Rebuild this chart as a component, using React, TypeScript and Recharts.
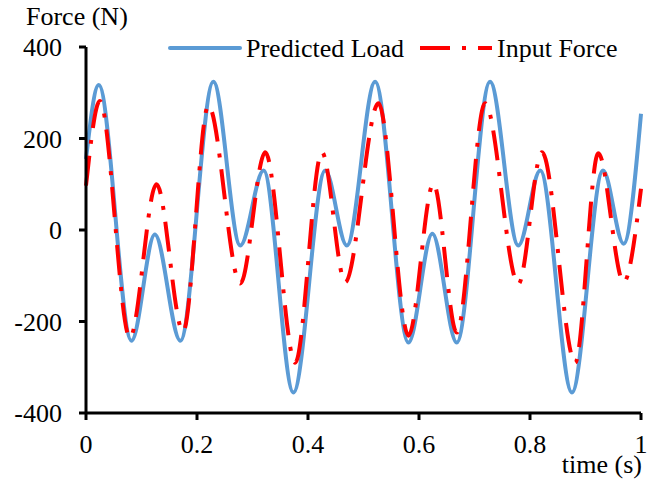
import { LineChart, Line, XAxis, YAxis, Legend } from 'recharts';

// Predicted Load (blue) – extrema
const predictedTime = [0, 0.023, 0.082, 0.124, 0.17, 0.2295, 0.278, 0.32, 0.3737, 0.431, 0.47, 0.521, 0.581, 0.624, 0.668, 0.728, 0.779, 0.8185, 0.8756, 0.9315, 0.9687, 1];
const predictedForce = [155, 317, -242, -10, -242, 324, -34, 130, -355, 130, -34, 324, -246, -8, -246, 324, -34, 130, -355, 130, -30, 254];

// Input Force (red dash-dot)
const inputTime = [0, 0.025, 0.079, 0.127, 0.175, 0.2205, 0.278, 0.323, 0.377, 0.425, 0.467, 0.527, 0.581, 0.626, 0.668, 0.719, 0.779, 0.8215, 0.8815, 0.923, 0.9687, 1];
const inputForce = [97, 282, -235, 100, -222, 272, -117, 170, -290, 170, -114, 277, -231, 101, -224, 277, -118, 170, -290, 168, -114, 90];

const xTicks = [0, 0.2, 0.4, 0.6, 0.8, 1];
const yTicks = [-400, -200, 0, 200, 400];

const predictedData = predictedTime.map((t, i) => ({ t, v: predictedForce[i] }));
const inputData = inputTime.map((t, i) => ({ t, v: inputForce[i] }));

const FONT = "'Liberation Serif', 'DejaVu Serif', serif";
const BLUE = '#5B9BD5';
const RED = '#FF0000';
const DASH = '30 12 4 12';

const textStyle = { fontFamily: FONT, fontSize: 26, fill: '#000' };

const LegendBox = () => (
  <svg width={480} height={45} style={{ display: 'block' }}>
    <line x1={10} x2={80} y1={23} y2={23} stroke={BLUE} strokeWidth={4} strokeLinecap="round" />
    <text x={86} y={32} style={textStyle}>
      Predicted Load
    </text>
    <line x1={260} x2={332} y1={23} y2={23} stroke={RED} strokeWidth={4} strokeDasharray={DASH} />
    <text x={337} y={32} style={textStyle}>
      Input Force
    </text>
  </svg>
);

export default function App() {
  return (
    <div style={{ position: 'absolute', left: 0, top: 0, background: '#fff', fontFamily: FONT }}>
      <LineChart width={662} height={481} margin={{ top: 47, right: 21, bottom: 0, left: 0 }}>
        <XAxis
          type="number"
          dataKey="t"
          domain={[0, 1]}
          ticks={xTicks}
          height={68}
          tickSize={7}
          tickMargin={15}
          axisLine={{ stroke: '#000', strokeWidth: 3 }}
          tickLine={{ stroke: '#000', strokeWidth: 3 }}
          tick={{ fill: '#000', fontSize: 26, style: { fontFamily: FONT } }}
          label={{
            content: (props: any) => {
              const vb = props.viewBox;
              return (
                <text x={vb.x + vb.width + 1} y={vb.y + 60} textAnchor="end" style={textStyle}>
                  time (s)
                </text>
              );
            },
          }}
        />
        <YAxis
          type="number"
          domain={[-400, 400]}
          ticks={yTicks}
          width={86}
          tickSize={7}
          tickMargin={17}
          axisLine={{ stroke: '#000', strokeWidth: 3 }}
          tickLine={{ stroke: '#000', strokeWidth: 3 }}
          tick={{ fill: '#000', fontSize: 26, style: { fontFamily: FONT } }}
          label={{
            content: (props: any) => {
              const vb = props.viewBox;
              return (
                <text x={vb.x + 26} y={vb.y - 22} style={textStyle}>
                  Force (N)
                </text>
              );
            },
          }}
        />
        <Legend
          layout="horizontal"
          verticalAlign="middle"
          align="center"
          wrapperStyle={{ left: 160, top: 25, width: 480, height: 45 }}
          content={() => <LegendBox />}
        />
        <Line
          name="Predicted Load"
          data={predictedData}
          dataKey="v"
          type="monotone"
          stroke={BLUE}
          strokeWidth={4}
          dot={false}
          activeDot={false}
          isAnimationActive={false}
        />
        <Line
          name="Input Force"
          data={inputData}
          dataKey="v"
          type="monotone"
          stroke={RED}
          strokeWidth={4}
          strokeDasharray={DASH}
          dot={false}
          activeDot={false}
          isAnimationActive={false}
        />
      </LineChart>
    </div>
  );
}
